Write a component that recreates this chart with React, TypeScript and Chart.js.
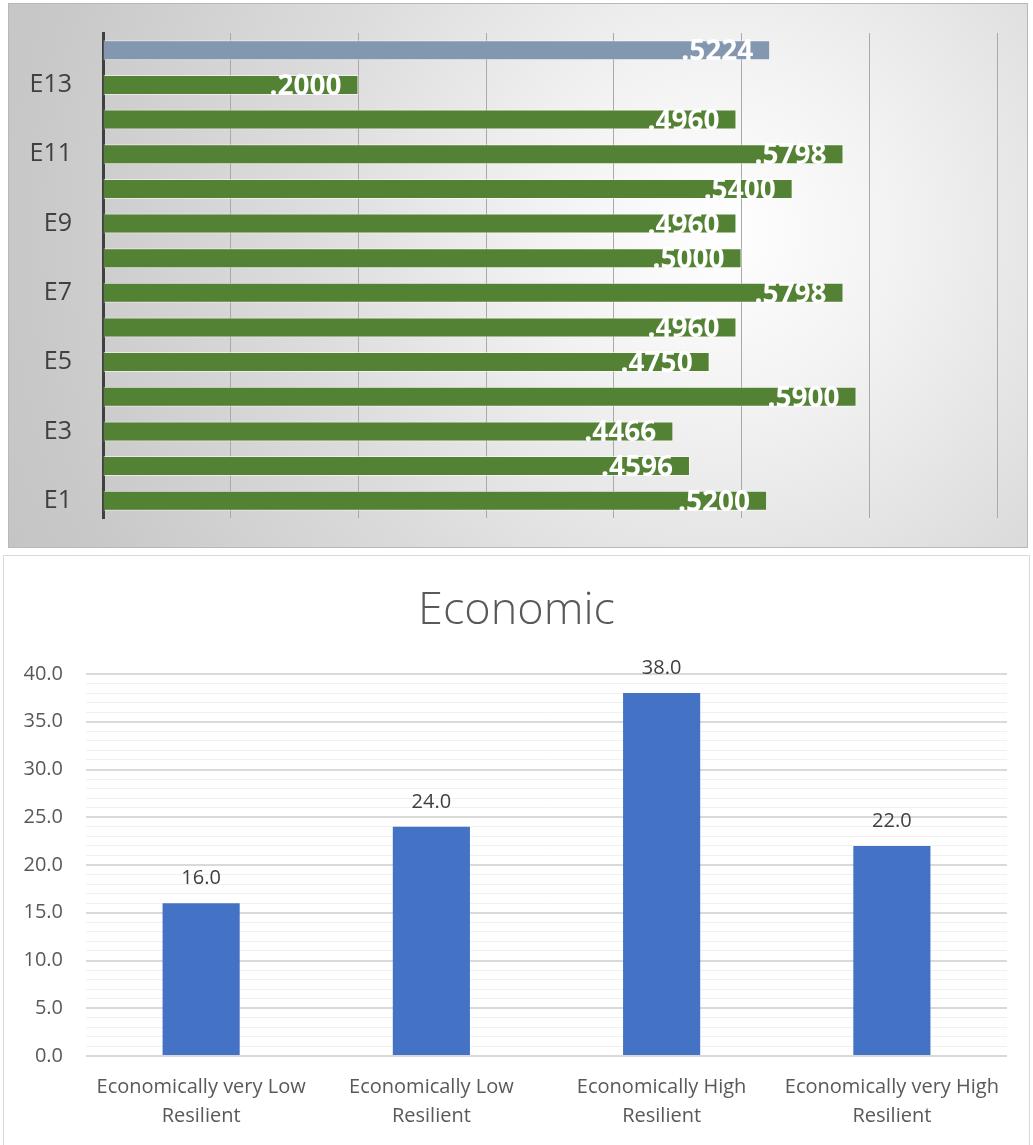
import React, { useEffect, useRef } from "react";
import { Chart, registerables } from "chart.js";

Chart.register(...registerables);
Chart.defaults.font.family = "'Open Sans', sans-serif";

// ---- Top chart data (bottom to top) ----
const indicatorLabels = ["E1", "E2", "E3", "E4", "E5", "E6", "E7", "E8", "E9", "E10", "E11", "E12", "E13", "Economic"];
const indicatorValues = [0.52, 0.4596, 0.4466, 0.59, 0.475, 0.496, 0.5798, 0.5, 0.496, 0.54, 0.5798, 0.496, 0.2, 0.5224];
const indicatorAxisMax = 0.7;
const indicatorAxisStep = 0.1;

// ---- Bottom chart data ----
const classTitle = "Economic";
const classLabels = [
  ["Economically very Low", "Resilient"],
  ["Economically Low", "Resilient"],
  ["Economically High", "Resilient"],
  ["Economically very High", "Resilient"],
];
const classValues = [16, 24, 38, 22];
const classAxisMax = 40;
const classMinorStep = 1;
const classMajorStep = 5;

function makeLabelPlugin(cfg: {
  font: string;
  color: string;
  align: CanvasTextAlign;
  dx: number;
  dy: number;
  format: (v: number) => string;
}) {
  return {
    id: "barValueLabels",
    afterDatasetsDraw(chart: any) {
      const ctx = chart.ctx as CanvasRenderingContext2D;
      const meta = chart.getDatasetMeta(0);
      const values = chart.data.datasets[0].data as number[];
      ctx.save();
      ctx.font = cfg.font;
      ctx.fillStyle = cfg.color;
      ctx.textAlign = cfg.align;
      ctx.textBaseline = "middle";
      meta.data.forEach((bar: any, i: number) => {
        ctx.fillText(cfg.format(values[i]), bar.x + cfg.dx, bar.y + cfg.dy);
      });
      ctx.restore();
    },
  };
}

function IndicatorChart() {
  const ref = useRef<HTMLCanvasElement>(null);
  useEffect(() => {
    if (!ref.current) return;
    const lastIndex = indicatorValues.length - 1;
    const chart = new Chart(ref.current, {
      type: "bar",
      data: {
        labels: indicatorLabels,
        datasets: [
          {
            data: indicatorValues,
            backgroundColor: (c: any) => (c.dataIndex === lastIndex ? "#8497b0" : "#548235"),
            borderColor: "rgba(255,255,255,0.55)",
            borderWidth: 1,
            barPercentage: 0.577,
            categoryPercentage: 1,
          },
        ],
      },
      options: {
        indexAxis: "y",
        responsive: false,
        animation: false,
        layout: { padding: { top: 29, right: 30, bottom: 29, left: 0 } },
        plugins: { legend: { display: false }, tooltip: { enabled: false }, title: { display: false } },
        scales: {
          x: {
            type: "linear",
            min: 0,
            max: indicatorAxisMax,
            ticks: { display: false, stepSize: indicatorAxisStep },
            grid: { color: "#a9a9a9", lineWidth: 1, drawTicks: false },
            border: { display: false },
            afterFit: (s: any) => {
              s.height = 0;
            },
          },
          y: {
            reverse: true,
            grid: { display: false, drawTicks: true, tickLength: 31 },
            border: { display: true, color: "#404040", width: 3 },
            ticks: {
              autoSkip: false,
              padding: 0,
              color: "#404040",
              font: { size: 25 },
              callback: function (this: any, _v: any, i: number) {
                return i % 2 === 0 ? indicatorLabels[i] : "";
              },
            },
            afterFit: (s: any) => {
              s.width = 94;
            },
          },
        },
      },
      plugins: [
        makeLabelPlugin({
          font: "bold 28px 'Open Sans', sans-serif",
          color: "#ffffff",
          align: "right",
          dx: -17,
          dy: 2,
          format: (v) => v.toFixed(4).slice(1),
        }),
      ],
    } as any);
    return () => chart.destroy();
  }, []);
  return <canvas ref={ref} width={1018} height={543} style={{ display: "block", width: 1018, height: 543 }} />;
}

function ClassChart() {
  const ref = useRef<HTMLCanvasElement>(null);
  useEffect(() => {
    if (!ref.current) return;
    const chart = new Chart(ref.current, {
      type: "bar",
      data: {
        labels: classLabels,
        datasets: [
          {
            data: classValues,
            backgroundColor: "#4472c4",
            barPercentage: 0.335,
            categoryPercentage: 1,
          },
        ],
      },
      options: {
        responsive: false,
        animation: false,
        layout: { padding: { top: 0, right: 0, bottom: 0, left: 0 } },
        plugins: {
          legend: { display: false },
          tooltip: { enabled: false },
          title: {
            display: true,
            text: classTitle,
            color: "#595959",
            font: { size: 45, weight: 300 },
            padding: { top: 28, bottom: 36 },
          },
        },
        scales: {
          x: {
            grid: { display: false, drawTicks: false },
            border: { display: false },
            ticks: { color: "#595959", font: { size: 20, lineHeight: 29 / 20 }, padding: 17, autoSkip: false, maxRotation: 0 },
            afterFit: (s: any) => {
              s.height = 89;
            },
          },
          y: {
            min: 0,
            max: classAxisMax,
            grid: {
              drawTicks: false,
              color: (c: any) => (c.tick && c.tick.value % classMajorStep === 0 ? "#d9d9d9" : "#f0f0f0"),
              lineWidth: (c: any) => (c.tick && c.tick.value % classMajorStep === 0 ? 2 : 1),
            },
            border: { display: false },
            ticks: {
              stepSize: classMinorStep,
              autoSkip: false,
              padding: 23,
              color: "#595959",
              font: { size: 20 },
              callback: (v: any) => (Number(v) % classMajorStep === 0 ? Number(v).toFixed(1) : ""),
            },
            afterFit: (s: any) => {
              s.width = 82;
            },
          },
          rightSpace: {
            type: "linear",
            position: "right",
            display: true,
            grid: { display: false, drawTicks: false },
            border: { display: false },
            ticks: { display: false },
            afterFit: (s: any) => {
              s.width = 22;
            },
          },
        },
      },
      plugins: [
        makeLabelPlugin({
          font: "20px 'Open Sans', sans-serif",
          color: "#404040",
          align: "center",
          dx: 0,
          dy: -25,
          format: (v) => v.toFixed(1),
        }),
      ],
    } as any);
    return () => chart.destroy();
  }, []);
  return <canvas ref={ref} width={1025} height={589} style={{ display: "block", width: 1025, height: 589 }} />;
}

export default function App() {
  return (
    <div style={{ position: "absolute", left: 0, top: 0, width: 1033, height: 1145, overflow: "hidden", background: "#ffffff" }}>
      <div
        style={{
          position: "absolute",
          left: 8,
          top: 3,
          width: 1020,
          height: 545,
          boxSizing: "border-box",
          border: "1px solid #b8b8b8",
          background:
            "radial-gradient(circle at 70% 42%, #ffffff 0px, #f2f2f2 180px, #dcdcdc 420px, #c8c8c8 700px, #c0c0c0 900px)",
        }}
      >
        <IndicatorChart />
      </div>
      <div
        style={{
          position: "absolute",
          left: 3,
          top: 555,
          width: 1027,
          height: 590,
          boxSizing: "border-box",
          border: "1px solid #d9d9d9",
          borderBottom: "none",
          background: "#ffffff",
        }}
      >
        <ClassChart />
      </div>
    </div>
  );
}
